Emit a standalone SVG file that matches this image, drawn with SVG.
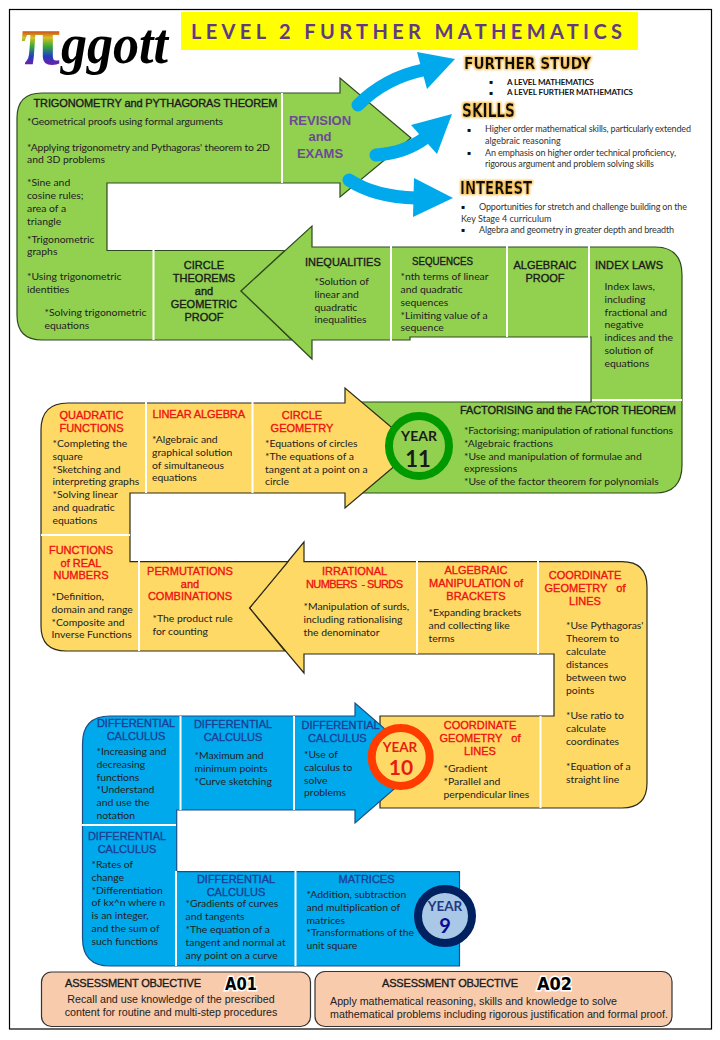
<svg xmlns="http://www.w3.org/2000/svg" width="720" height="1040" viewBox="0 0 720 1040">
<style>
text{font-family:"Lato","Carlito","Liberation Sans",sans-serif;font-size:10.400px;fill:#222}
.h,.hr,.hb,.hk{font-family:"Liberation Sans",Arial,sans-serif;font-size:11px;stroke-width:.35}
.h{font-weight:bold}
.hk{fill:#1a1a1a;stroke:#1a1a1a}.hr{fill:#ee1111;stroke:#ee1111}.hb{fill:#1c3f94;stroke:#1c3f94}
.m{text-anchor:middle}
.sep{stroke:#fff;stroke-width:2;fill:none}
.g{fill:#92d050;stroke:#2f4a20;stroke-width:1.2}
.y{fill:#ffd966;stroke:#2a2a18;stroke-width:1.2}
.bl{fill:#00a9ec;stroke:#1a4f86;stroke-width:1.2}
.pe{fill:#f8cbad;stroke:#333;stroke-width:1.2}
.ar{fill:none;stroke:#00a9ec;stroke-width:13;stroke-linecap:round}
.ah{fill:#00a9ec}
.f{font-family:"DejaVu Sans",sans-serif;font-weight:bold;fill:#111;filter:url(#glow)}
.l{font-size:9px;fill:#333}
.lb{font-size:8px;font-weight:bold;fill:#111}
.d{font-family:"DejaVu Sans",sans-serif;font-size:6px;fill:#111}
.a{font-family:"Liberation Sans",Arial,sans-serif;font-size:10.700px;fill:#222}
.o{font-family:"DejaVu Sans",sans-serif;font-size:17px;font-weight:bold;fill:#000;stroke:#fff;stroke-width:3;paint-order:stroke}
.yr{font-weight:bold;text-anchor:middle}
</style>
<defs>
<linearGradient id="rb" x1="0" y1="0" x2="0" y2="1"><stop offset=".36" stop-color="#c8201c"/><stop offset=".47" stop-color="#d8c020"/><stop offset=".58" stop-color="#38a838"/><stop offset=".7" stop-color="#2040c0"/><stop offset=".8" stop-color="#6a1fa8"/></linearGradient>
<filter id="glow" x="-15%" y="-40%" width="130%" height="180%"><feMorphology in="SourceAlpha" operator="dilate" radius="1.2" result="d"/><feGaussianBlur in="d" stdDeviation="1.2" result="b"/><feFlood flood-color="#f5b942"/><feComposite in2="b" operator="in" result="c"/><feMerge><feMergeNode in="c"/><feMergeNode in="SourceGraphic"/></feMerge></filter>
</defs>
<rect x="9.5" y="9.5" width="702" height="1019.5" fill="#fff" stroke="#000" stroke-width="1.2"/>
<g id="title"><rect x="181" y="12" width="457" height="38" fill="#ffff00"/>
<text x="191" y="39" style="font-size:20px;font-weight:bold;fill:#5f3a86" textLength="431">LEVEL 2 FURTHER MATHEMATICS</text></g>
<g id="logo"><text x="21" y="64" style="font-family:'Liberation Serif',serif;font-size:72px;font-weight:bold;fill:url(#rb)" textLength="39" lengthAdjust="spacingAndGlyphs">π</text>
<text x="61" y="63" style="font-family:'Liberation Serif',serif;font-size:56px;font-weight:bold;font-style:italic;fill:#000" textLength="107" lengthAdjust="spacingAndGlyphs">ggott</text></g>

<g id="bands">
<path class="g" d="M17 118Q17 93 42 93H340V78L411 138L340 197V183H107V250.5H285L241 291L292 340H42Q17 340 17 315Z"/>
<path class="g" d="M312 226V247H655Q682 247 682 275V465Q682 493 655 493H350V402H591V337H410V340H312V359L241 291Z"/>
<path class="y" d="M304 542V561.7H622Q647 561.7 647 587V783Q647 808 622 808H380V716H554V654H304V673L249.5 608Z"/>
<path class="y" d="M41 430Q41 403 68 403H345V388L416 448L345 508V493H130V561.7H288L249.5 608L285 651H66Q41 651 41 626Z"/>
<path class="bl" d="M82.5 744Q82.5 716 110 716H355V703L424 763L355 823V810H176.7V871.7H459.5V966H110Q82.5 966 82.5 938Z"/>
<path class="sep" d="M282 93V183M153.500 250V340M391 246V342M507 246V337M589 246V338M592 400H682M146 402V493M252.500 402V493M41 535H130M139 561V651M417 561V654M538 561V654M540.500 716V808M180.500 716V810M294 716V810M82 825H176M176 871V966M295.500 871V966"/>
</g>

<g id="connectors">
<path class="ar" d="M358 105Q385 78 423 70"/><polygon class="ah" points="417,52 455,59 427,89"/>
<path class="ar" d="M376 155Q405 153 425 138"/><polygon class="ah" points="411,125 452,114 437,154"/>
<path class="ar" d="M349 180Q375 197 416 198"/><polygon class="ah" points="414,178 453,198 413,217"/>
</g>

<g id="further-study"><text class="f" x="464" y="69" style="font-size:16px" textLength="127" lengthAdjust="spacingAndGlyphs">FURTHER STUDY</text>
<text class="d" x="489" y="84">▪</text><text class="lb" x="507" y="84.500" textLength="87">A LEVEL MATHEMATICS</text>
<text class="d" x="489" y="95">▪</text><text class="lb" x="507" y="95" textLength="126">A LEVEL FURTHER MATHEMATICS</text></g>
<g id="skills"><text class="f" x="462" y="117" style="font-size:19px" textLength="53" lengthAdjust="spacingAndGlyphs">SKILLS</text>
<text class="d" x="467" y="132">▪</text><text class="l" x="485" y="132" textLength="206">Higher order mathematical skills, particularly extended</text>
<text class="l" x="485" y="143.500">algebraic reasoning</text>
<text class="d" x="467" y="155">▪</text><text class="l" x="485" y="155.500" textLength="191">An emphasis on higher order technical proficiency,</text>
<text class="l" x="485" y="166.500" textLength="169">rigorous argument and problem solving skills</text></g>
<g id="interest"><text class="f" x="460" y="194" style="font-size:17px" textLength="72" lengthAdjust="spacingAndGlyphs">INTEREST</text>
<text class="d" x="461" y="209">▪</text><text class="l" x="479" y="210" textLength="208">Opportunities for stretch and challenge building on the</text>
<text class="l" x="461" y="221.500">Key Stage 4 curriculum</text>
<text class="d" x="461" y="232">▪</text><text class="l" x="479" y="233" textLength="195">Algebra and geometry in greater depth and breadth</text></g>

<g id="trig"><text class="hk" x="33.500" y="107" textLength="244">TRIGONOMETRY and PYTHAGORAS THEOREM</text>
<text x="27" y="125" textLength="196">*Geometrical proofs using formal arguments</text>
<text x="27" y="151" textLength="243">*Applying trigonometry and Pythagoras' theorem to 2D</text>
<text x="27" y="163">and 3D problems</text>
<text x="27" y="186">*Sine and</text><text x="27" y="199">cosine rules;</text><text x="27" y="212">area of a</text><text x="27" y="224.500">triangle</text>
<text x="27" y="242.500">*Trigonometric</text><text x="27" y="255">graphs</text>
<text x="27" y="280">*Using trigonometric</text><text x="27" y="293">identities</text>
<text x="44.500" y="316">*Solving trigonometric</text><text x="44.500" y="329">equations</text></g>
<g id="revision"><text class="h m" x="320" y="124.500" style="font-size:13px;fill:#6c4a96;stroke:none">REVISION</text><text class="h m" x="320" y="141" style="font-size:13px;fill:#6c4a96;stroke:none">and</text><text class="h m" x="320" y="158" style="font-size:13px;fill:#6c4a96;stroke:none">EXAMS</text></g>
<g id="circle-theorems"><text class="hk m" x="204" y="269">CIRCLE</text><text class="hk m" x="204" y="282">THEOREMS</text><text class="hk m" x="204" y="295">and</text><text class="hk m" x="204" y="308">GEOMETRIC</text><text class="hk m" x="204" y="321">PROOF</text></g>
<g id="inequalities"><text class="hk" x="305" y="265.500">INEQUALITIES</text>
<text x="314.500" y="285">*Solution of</text><text x="314.500" y="298">linear and</text><text x="314.500" y="311">quadratic</text><text x="314.500" y="323">inequalities</text></g>
<g id="sequences"><text class="hk" x="412" y="265" textLength="61" lengthAdjust="spacingAndGlyphs">SEQUENCES</text>
<text x="400.500" y="280">*nth terms of linear</text><text x="400.500" y="293">and quadratic</text><text x="400.500" y="306">sequences</text><text x="400.500" y="318.500">*Limiting value of a</text><text x="400.500" y="331">sequence</text></g>
<g id="algebraic-proof"><text class="hk m" x="545" y="269">ALGEBRAIC</text><text class="hk m" x="545" y="282">PROOF</text></g>
<g id="index-laws"><text class="hk" x="595" y="269" textLength="68">INDEX LAWS</text>
<text x="604.500" y="290">Index laws,</text><text x="604.500" y="303">including</text><text x="604.500" y="316">fractional and</text><text x="604.500" y="328">negative</text><text x="604.500" y="341">indices and the</text><text x="604.500" y="354">solution of</text><text x="604.500" y="367">equations</text></g>
<g id="factorising"><text class="hk" x="460" y="414" textLength="216">FACTORISING and the FACTOR THEOREM</text>
<text x="464" y="433.500" textLength="209">*Factorising; manipulation of rational functions</text><text x="464" y="446.500">*Algebraic fractions</text><text x="464" y="459.500">*Use and manipulation of formulae and</text><text x="464" y="472">expressions</text><text x="464" y="484.500">*Use of the factor theorem for polynomials</text></g>
<g id="year-11"><circle cx="419" cy="446" r="30" fill="#92d050" stroke="#009900" stroke-width="8"/><text class="yr" x="419" y="441" style="font-size:14px;fill:#1a1a1a">YEAR</text><text class="yr" x="418" y="467" style="font-size:22px;fill:#1a1a1a">11</text></g>

<g id="quadratic"><text class="hr m" x="91.500" y="419">QUADRATIC</text><text class="hr m" x="91.500" y="432">FUNCTIONS</text>
<text x="52.500" y="447">*Completing the</text><text x="52.500" y="460">square</text><text x="52.500" y="473">*Sketching and</text><text x="52.500" y="485">interpreting graphs</text><text x="52.500" y="498">*Solving linear</text><text x="52.500" y="511">and quadratic</text><text x="52.500" y="524">equations</text></g>
<g id="linear-algebra"><text class="hr" x="152.500" y="417.500" textLength="92.500">LINEAR ALGEBRA</text>
<text x="152" y="443">*Algebraic and</text><text x="152" y="456">graphical solution</text><text x="152" y="469">of simultaneous</text><text x="152" y="481">equations</text></g>
<g id="circle-geometry"><text class="hr m" x="302" y="419">CIRCLE</text><text class="hr m" x="302" y="432">GEOMETRY</text>
<text x="265" y="447">*Equations of circles</text><text x="265" y="460">*The equations of a</text><text x="265" y="473">tangent at a point on a</text><text x="265" y="485">circle</text></g>
<g id="functions"><text class="hr m" x="81" y="553.500">FUNCTIONS</text><text class="hr m" x="81" y="566.500">of REAL</text><text class="hr m" x="81" y="579">NUMBERS</text>
<text x="51.500" y="600">*Definition,</text><text x="51.500" y="613">domain and range</text><text x="51.500" y="626">*Composite and</text><text x="51.500" y="638">Inverse Functions</text></g>
<g id="permutations"><text class="hr m" x="190" y="574.500">PERMUTATIONS</text><text class="hr m" x="190" y="587.500">and</text><text class="hr m" x="190" y="600">COMBINATIONS</text>
<text x="152.500" y="622">*The product rule</text><text x="152.500" y="635">for counting</text></g>
<g id="irrational"><text class="hr" x="322" y="574.500">IRRATIONAL</text><text class="hr" x="306" y="587.500" xml:space="preserve" textLength="97">NUMBERS  - SURDS</text>
<text x="303.500" y="610">*Manipulation of surds,</text><text x="303.500" y="623">including rationalising</text><text x="303.500" y="635.500">the denominator</text></g>
<g id="algebraic-manipulation"><text class="hr m" x="476" y="574">ALGEBRAIC</text><text class="hr m" x="476" y="587">MANIPULATION of</text><text class="hr m" x="476" y="600">BRACKETS</text>
<text x="428.500" y="615.700">*Expanding brackets</text><text x="428.500" y="629">and collecting like</text><text x="428.500" y="642">terms</text></g>
<g id="coordinate-a"><text class="hr m" x="585" y="578.700">COORDINATE</text><text class="hr m" x="585" y="591.700" xml:space="preserve">GEOMETRY   of</text><text class="hr m" x="585" y="604.700">LINES</text>
<text x="566" y="629">*Use Pythagoras'</text><text x="566" y="642">Theorem to</text><text x="566" y="655">calculate</text><text x="566" y="667.500">distances</text><text x="566" y="680.500">between two</text><text x="566" y="693.500">points</text><text x="566" y="719">*Use ratio to</text><text x="566" y="731.500">calculate</text><text x="566" y="744.500">coordinates</text><text x="566" y="770">*Equation of a</text><text x="566" y="783">straight line</text></g>
<g id="coordinate-b"><text class="hr m" x="480" y="729.300">COORDINATE</text><text class="hr m" x="480" y="742" xml:space="preserve">GEOMETRY   of</text><text class="hr m" x="480" y="755">LINES</text>
<text x="443.500" y="771.700">*Gradient</text><text x="443.500" y="785">*Parallel and</text><text x="443.500" y="798">perpendicular lines</text></g>
<g id="year-10"><circle cx="400.700" cy="757" r="29" fill="#ffd966" stroke="#ff3b00" stroke-width="8"/><text class="yr" x="400" y="752" style="font-size:13.500px;fill:#e81c10">YEAR</text><text class="yr" x="401" y="775" style="font-size:21px;fill:#e81c10">10</text></g>

<g id="diff-1"><text class="hb m" x="136" y="727">DIFFERENTIAL</text><text class="hb m" x="136" y="740">CALCULUS</text>
<text x="96.500" y="755">*Increasing and</text><text x="96.500" y="768">decreasing</text><text x="96.500" y="781">functions</text><text x="96.500" y="793">*Understand</text><text x="96.500" y="806">and use the</text><text x="96.500" y="819">notation</text></g>
<g id="diff-2"><text class="hb m" x="233" y="728">DIFFERENTIAL</text><text class="hb m" x="233" y="741">CALCULUS</text>
<text x="194.500" y="758.700">*Maximum and</text><text x="194.500" y="772">minimum points</text><text x="194.500" y="785">*Curve sketching</text></g>
<g id="diff-3"><text class="hb" x="301.500" y="729">DIFFERENTIAL</text><text class="hb" x="308" y="742">CALCULUS</text>
<text x="304" y="758">*Use of</text><text x="304" y="771">calculus to</text><text x="304" y="784">solve</text><text x="304" y="796">problems</text></g>
<g id="diff-4"><text class="hb m" x="127" y="840">DIFFERENTIAL</text><text class="hb m" x="127" y="853">CALCULUS</text>
<text x="91.500" y="867.500">*Rates of</text><text x="91.500" y="881">change</text><text x="91.500" y="893.500">*Differentiation</text><text x="91.500" y="906">of kx^n where n</text><text x="91.500" y="919">is an integer,</text><text x="91.500" y="932">and the sum of</text><text x="91.500" y="945">such functions</text></g>
<g id="diff-5"><text class="hb m" x="236" y="882.500">DIFFERENTIAL</text><text class="hb m" x="236" y="895.500">CALCULUS</text>
<text x="185.500" y="907">*Gradients of curves</text><text x="185.500" y="920">and tangents</text><text x="185.500" y="933">*The equation of a</text><text x="185.500" y="945.500">tangent and normal at</text><text x="185.500" y="958.500">any point on a curve</text></g>
<g id="matrices"><text class="hb" x="338.500" y="883">MATRICES</text>
<text x="306.500" y="898">*Addition, subtraction</text><text x="306.500" y="911">and multiplication of</text><text x="306.500" y="923.500">matrices</text><text x="306.500" y="936">*Transformations of the</text><text x="306.500" y="949">unit square</text></g>
<g id="year-9"><circle cx="445" cy="916" r="27" fill="#a9c8e8" stroke="#002060" stroke-width="8"/><text class="yr" x="445" y="911" style="font-size:13.500px;fill:#1f3a80">YEAR</text><text class="yr" x="445" y="933" style="font-size:20px;fill:#0a0a90">9</text></g>

<g id="a01"><rect class="pe" x="41.500" y="972" width="269" height="54.500" rx="10"/>
<text class="hk" x="65" y="987" textLength="136">ASSESSMENT OBJECTIVE</text><text class="o" x="225" y="990" textLength="32" lengthAdjust="spacingAndGlyphs">A01</text>
<text class="a m" x="171" y="1002.700">Recall and use knowledge of the prescribed</text><text class="a m" x="171" y="1015.500">content for routine and multi-step procedures</text></g>
<g id="a02"><rect class="pe" x="315" y="971.500" width="357" height="55" rx="10"/>
<text class="hk" x="382" y="987" textLength="136">ASSESSMENT OBJECTIVE</text><text class="o" x="537" y="990" textLength="35" lengthAdjust="spacingAndGlyphs">A02</text>
<text class="a" x="330" y="1004.700">Apply mathematical reasoning, skills and knowledge to solve</text><text class="a" x="330" y="1017.500" textLength="338">mathematical problems including rigorous justification and formal proof.</text></g>
</svg>
